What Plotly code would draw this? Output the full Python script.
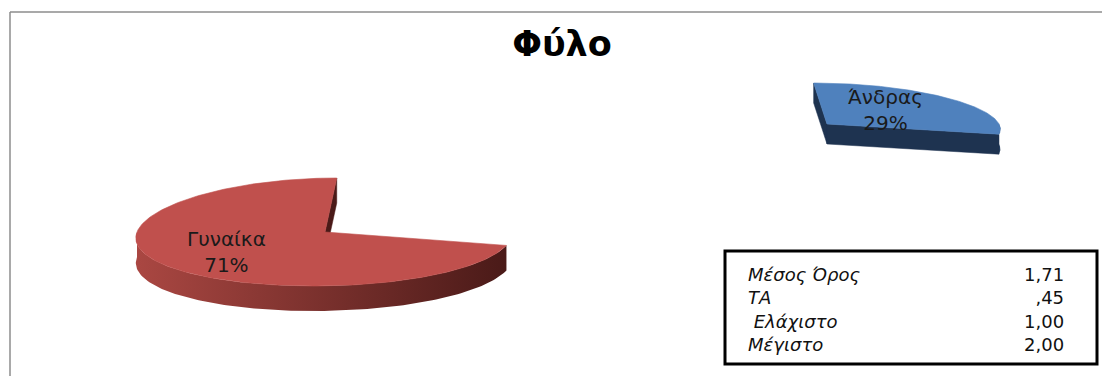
import numpy as np
import plotly.graph_objects as go

# ---- data -------------------------------------------------------------
categories = ["Άνδρας", "Γυναίκα"]
percentages = [29, 71]

stat_labels = ["Μέσος Όρος", "ΤΑ", " Ελάχιστο", "Μέγιστο"]
stat_values = ["1,71", ",45", "1,00", "2,00"]

chart_title = "Φύλο"

# ---- layout / styling ---------------------------------------------------
W, H = 1102, 376

# each slice is pulled out of the pie, so it gets its own apex and size
slice_geom = {
    "Άνδρας": dict(cx=827, cy=124, rx=172, ry=41, depth=20),
    "Γυναίκα": dict(cx=325, cy=232, rx=188, ry=54, depth=25),
}
slice_style = {
    "Άνδρας": dict(top="#4F81BD", side=["#2A4669", "#1E3350"]),
    "Γυναίκα": dict(top="#C0504D", side=["#AA4742", "#4A1A18"]),
}
label_pos = {"Άνδρας": (885, 110), "Γυναίκα": (226, 252)}

VX = 560.0   # horizontal vanishing point of the perspective
K = 0.05     # perspective strength

LABEL_FONT = dict(family="DejaVu Sans", size=20, color="#1a1a1a")
TABLE_FONT = dict(family="DejaVu Sans", size=18, color="#111111")


def project(xw, yw, far):
    """Perspective squeeze: points further back move toward VX."""
    return VX + (xw - VX) * (1 - K * far), yw


def rim_pts(g, t, dz=0.0):
    xw = g["cx"] + g["rx"] * np.sin(t)
    yw = g["cy"] - g["ry"] * np.cos(t) + dz
    return project(xw, yw, np.cos(t))


def apex(g, dz=0.0):
    return project(g["cx"], g["cy"] + dz, 0.0)


fig = go.Figure()

total = float(sum(percentages))
cum = 0.0
tops = []
for name, val in zip(categories, percentages):
    a0 = 2 * np.pi * cum / total
    a1 = 2 * np.pi * (cum + val) / total
    cum += val
    g = slice_geom[name]
    st = slice_style[name]
    d = g["depth"]

    # flat cut faces along the two radial edges (only those facing the viewer)
    for t, sgn in ((a0, -1), (a1, 1)):
        normal = t + sgn * np.pi / 2
        if np.cos(normal) <= 1e-6:
            ax0, ay0 = apex(g)
            ax1, ay1 = apex(g, d)
            rx0, ry0 = rim_pts(g, t)
            rx1, ry1 = rim_pts(g, t, d)
            fig.add_trace(go.Scatter(
                x=[ax0, rx0, rx1, ax1, ax0], y=[ay0, ry0, ry1, ay1, ay0],
                mode="lines", fill="toself", fillcolor=st["side"][1],
                line=dict(width=0.5, color=st["side"][1]),
                hoverinfo="skip", showlegend=False))

    # curved outer wall on the front half of the rim
    lo, hi = max(a0, np.pi / 2), min(a1, 3 * np.pi / 2)
    if lo < hi:
        tt = np.linspace(lo, hi, 120)
        xt, yt = rim_pts(g, tt)
        xb, yb = rim_pts(g, tt[::-1], d)
        xs = np.concatenate([xt, xb, xt[:1]])
        ys = np.concatenate([yt, yb, yt[:1]])
        fig.add_trace(go.Scatter(
            x=xs, y=ys, mode="lines", fill="toself",
            fillgradient=dict(type="horizontal",
                              colorscale=[[0, st["side"][0]], [1, st["side"][1]]]),
            line=dict(width=0),
            hoverinfo="skip", showlegend=False))

    # top face
    tt = np.linspace(a0, a1, 200)
    xr, yr = rim_pts(g, tt)
    ax0, ay0 = apex(g)
    tops.append(go.Scatter(
        x=np.concatenate([[ax0], xr, [ax0]]),
        y=np.concatenate([[ay0], yr, [ay0]]),
        mode="lines", fill="toself", fillcolor=st["top"],
        line=dict(width=0.6, color=st["top"]),
        hoverinfo="skip", showlegend=False))

    lx, ly = label_pos[name]
    fig.add_annotation(x=lx, y=ly, xref="x", yref="y",
                       text=f"{name}<br>{val}%", showarrow=False,
                       font=LABEL_FONT, align="center")

for tr in tops:
    fig.add_trace(tr)

# ---- statistics box -----------------------------------------------------
fig.add_shape(type="rect", xref="x", yref="y", x0=725, x1=1097, y0=251, y1=364,
              line=dict(color="#000000", width=3), fillcolor="rgba(0,0,0,0)")
label_lines = [
    "<i>" + (lab.replace(" ", "&nbsp;", 1) if lab.startswith(" ") else lab) + "</i>"
    for lab in stat_labels
]
fig.add_annotation(x=746, y=309, xref="x", yref="y", xanchor="left",
                   yanchor="middle", align="left",
                   text="<br>".join(label_lines), showarrow=False, font=TABLE_FONT)
fig.add_annotation(x=1066, y=309, xref="x", yref="y", xanchor="right",
                   yanchor="middle", align="right",
                   text="<br>".join(stat_values), showarrow=False, font=TABLE_FONT)

# ---- chart frame ----------------------------------------------------------
fig.add_shape(type="line", xref="x", yref="y", x0=10, x1=W + 5, y0=12, y1=12,
              line=dict(color="#8c8c8c", width=1.5))
fig.add_shape(type="line", xref="x", yref="y", x0=10, x1=10, y0=12, y1=H + 5,
              line=dict(color="#8c8c8c", width=1.5))

fig.update_layout(
    width=W, height=H, autosize=False,
    margin=dict(l=0, r=0, t=0, b=0),
    paper_bgcolor="white", plot_bgcolor="white",
    title=dict(text=f"<b>{chart_title}</b>", x=562 / W, xanchor="center",
               y=1 - 44 / H, yanchor="middle", yref="container",
               font=dict(family="DejaVu Sans", size=35, color="#000000")),
    xaxis=dict(range=[0, W], visible=False, fixedrange=True),
    yaxis=dict(range=[H, 0], visible=False, fixedrange=True),
    showlegend=False,
)

fig.write_html("out.html")
